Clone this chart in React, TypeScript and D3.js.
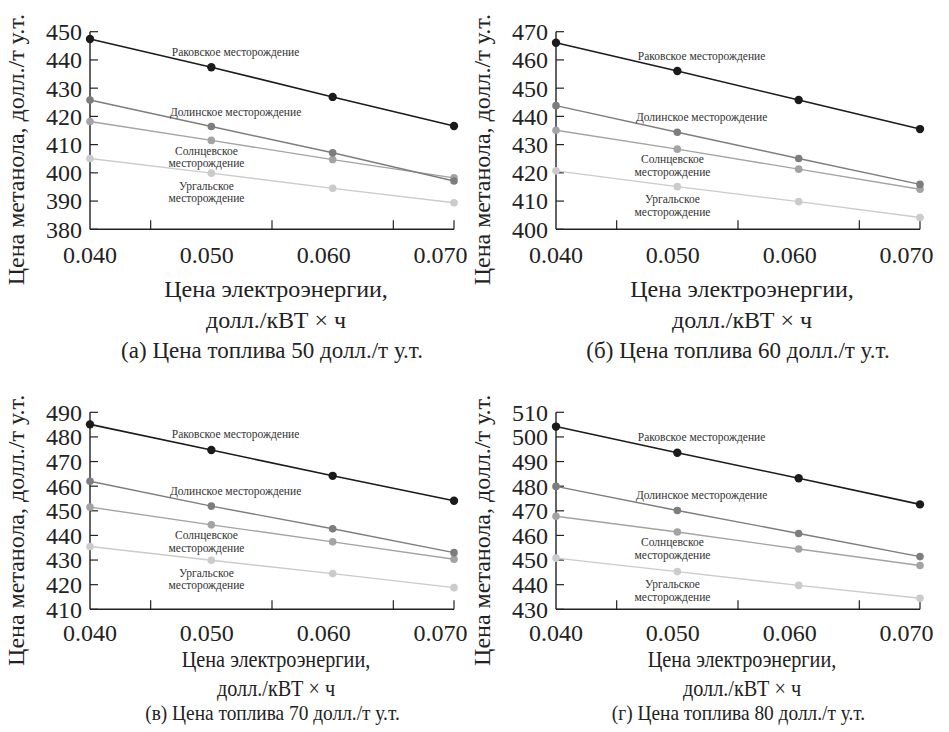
import React from "react";
import { scaleLinear, line } from "d3";

const width = 949;
const height = 732;

const xValues = [0.04, 0.05, 0.06, 0.07];
const xTickLabels = ["0.040", "0.050", "0.060", "0.070"];
const xMinorTicks = [0.045, 0.055, 0.065, 0.07];

const fieldNames = [
  "Раковское месторождение",
  "Долинское месторождение",
  "Солнцевское месторождение",
  "Ургальское месторождение",
];
const fieldColors = ["#1b1b1b", "#7d7d7d", "#a3a3a3", "#cbcbcb"];

// (а) fuel 50
const rakovskoeA = [447.4, 437.4, 426.9, 416.6];
const dolinskoeA = [425.8, 416.4, 407.1, 397.1];
const solntsevskoeA = [418.2, 411.5, 404.7, 398.2];
const urgalskoeA = [405.1, 399.9, 394.5, 389.4];
// (б) fuel 60
const rakovskoeB = [466.1, 456.1, 445.8, 435.5];
const dolinskoeB = [443.8, 434.4, 425.1, 415.9];
const solntsevskoeB = [435.1, 428.4, 421.3, 414.2];
const urgalskoeB = [420.7, 415.1, 409.8, 404.2];
// (в) fuel 70
const rakovskoeC = [485.1, 474.7, 464.2, 454.1];
const dolinskoeC = [462.0, 451.9, 442.7, 433.0];
const solntsevskoeC = [451.5, 444.3, 437.4, 430.3];
const urgalskoeC = [435.5, 429.9, 424.5, 418.8];
// (г) fuel 80
const rakovskoeD = [504.2, 493.6, 483.2, 472.6];
const dolinskoeD = [479.9, 470.1, 460.8, 451.4];
const solntsevskoeD = [467.8, 461.4, 454.5, 447.8];
const urgalskoeD = [450.8, 445.3, 439.7, 434.5];

const yTicksA = [380, 390, 400, 410, 420, 430, 440, 450];
const yTicksB = [400, 410, 420, 430, 440, 450, 460, 470];
const yTicksC = [410, 420, 430, 440, 450, 460, 470, 480, 490];
const yTicksD = [430, 440, 450, 460, 470, 480, 490, 500, 510];

const captions = [
  "(а) Цена топлива 50 долл./т у.т.",
  "(б) Цена топлива 60 долл./т у.т.",
  "(в) Цена топлива 70 долл./т у.т.",
  "(г) Цена топлива 80 долл./т у.т.",
];

// where the in-plot labels sit: x in data units, dy in px from the line
const labelSpots = [
  { x: 0.052, dy: -21, lines: ["Раковское месторождение"] },
  { x: 0.052, dy: -20, lines: ["Долинское месторождение"] },
  { x: 0.0496, dy: 11, lines: ["Солнцевское", "месторождение"] },
  { x: 0.0496, dy: 13, lines: ["Ургальское", "месторождение"] },
];

// text offsets below the x axis: tick labels, title lines, caption
const topRowText = [25, 68, 99, 129];
const bottomRowText = [23, 58, 87, 111];

const panels = [
  { series: [rakovskoeA, dolinskoeA, solntsevskoeA, urgalskoeA], ticks: yTicksA, left: 90, top: 31.7, bottom: 229.3, caption: captions[0], below: topRowText, squeeze: 1, textSize: 24 },
  { series: [rakovskoeB, dolinskoeB, solntsevskoeB, urgalskoeB], ticks: yTicksB, left: 556, top: 31.7, bottom: 229.3, caption: captions[1], below: topRowText, squeeze: 1, textSize: 24 },
  { series: [rakovskoeC, dolinskoeC, solntsevskoeC, urgalskoeC], ticks: yTicksC, left: 90, top: 412.3, bottom: 609.3, caption: captions[2], below: bottomRowText, squeeze: 0.88, textSize: 23 },
  { series: [rakovskoeD, dolinskoeD, solntsevskoeD, urgalskoeD], ticks: yTicksD, left: 556, top: 412.3, bottom: 609.3, caption: captions[3], below: bottomRowText, squeeze: 0.88, textSize: 23 },
];

const plotWidth = 364;
const font = "'Liberation Serif', 'DejaVu Serif', 'Times New Roman', Times, serif";
const axisColor = "#222";
const ink = "#222";

const Panel = ({ series, ticks, left, top, bottom, caption, below, squeeze, textSize }) => {
  const xScale = scaleLinear().domain([0.04, 0.07]).range([left, left + plotWidth]);
  const yScale = scaleLinear()
    .domain([ticks[0], ticks[ticks.length - 1]])
    .range([bottom, top]);
  const path = line()
    .x((d, i) => xScale(xValues[i]))
    .y((d) => yScale(d));
  const cx = left + plotWidth / 2;

  return (
    <g>
      {/* y axis */}
      <line x1={left} x2={left} y1={top} y2={bottom} stroke={axisColor} strokeWidth={1.4} />
      {ticks.map((t) => (
        <g key={t}>
          <line x1={left} x2={left + 8} y1={yScale(t)} y2={yScale(t)} stroke={axisColor} strokeWidth={1.2} />
          <text x={left - 8} y={yScale(t)} dy="0.35em" textAnchor="end" fontSize={24} fill={ink}>
            {t}
          </text>
        </g>
      ))}
      {/* x axis */}
      <line x1={left} x2={left + plotWidth} y1={bottom} y2={bottom} stroke={axisColor} strokeWidth={1.4} />
      {xMinorTicks.map((t) => (
        <line key={t} x1={xScale(t)} x2={xScale(t)} y1={bottom} y2={bottom - 9} stroke={axisColor} strokeWidth={1.2} />
      ))}
      {xValues.map((v, i) => (
        <text key={v} x={xScale(v) - i * 4.5} y={bottom + below[0]} dy="0.35em" textAnchor="middle" fontSize={24} fill={ink}>
          {xTickLabels[i]}
        </text>
      ))}
      <g transform={`translate(${cx + 4},0) scale(${squeeze},1)`}>
        <text x={0} y={bottom + below[1]} textAnchor="middle" fontSize={textSize} fill={ink}>
          Цена электроэнергии,
        </text>
        <text x={0} y={bottom + below[2]} textAnchor="middle" fontSize={textSize} fill={ink}>
          долл./кВТ × ч
        </text>
        <text x={-4} y={bottom + below[3]} textAnchor="middle" fontSize={textSize - 1} fill={ink}>
          {caption}
        </text>
      </g>
      <text
        transform={`translate(${left - 66},${top + 118}) rotate(-90)`}
        textAnchor="middle"
        fontSize={24}
        fill={ink}
      >
        Цена метанола, долл./т у.т.
      </text>

      {/* series */}
      {series
        .map((vals, s) => (
          <g key={s}>
            <path d={path(vals)} fill="none" stroke={fieldColors[s]} strokeWidth={s === 0 ? 1.6 : 1.4} />
            {vals.map((v, i) => (
              <circle key={i} cx={xScale(xValues[i])} cy={yScale(v)} r={s === 0 ? 4.2 : 3.8} fill={fieldColors[s]} />
            ))}
          </g>
        ))
        .reverse()}

      {/* field labels */}
      {labelSpots.map((spot, s) => {
        const along = scaleLinear().domain(xValues).range(series[s]);
        const y0 = yScale(along(spot.x)) + spot.dy;
        return (
          <text key={s} textAnchor="middle" fontSize={11.5} fill="#333" aria-label={fieldNames[s]}>
            {spot.lines.map((ln, k) => (
              <tspan key={k} x={xScale(spot.x)} y={y0 + k * 12.5} dy="0.35em">
                {ln}
              </tspan>
            ))}
          </text>
        );
      })}
    </g>
  );
};

export default function App() {
  return (
    <svg
      width={width}
      height={height}
      style={{ position: "absolute", left: 0, top: 0, background: "#fff", fontFamily: font }}
    >
      <rect width={width} height={height} fill="#fff" />
      {panels.map((p, i) => (
        <Panel key={i} {...p} />
      ))}
    </svg>
  );
}
